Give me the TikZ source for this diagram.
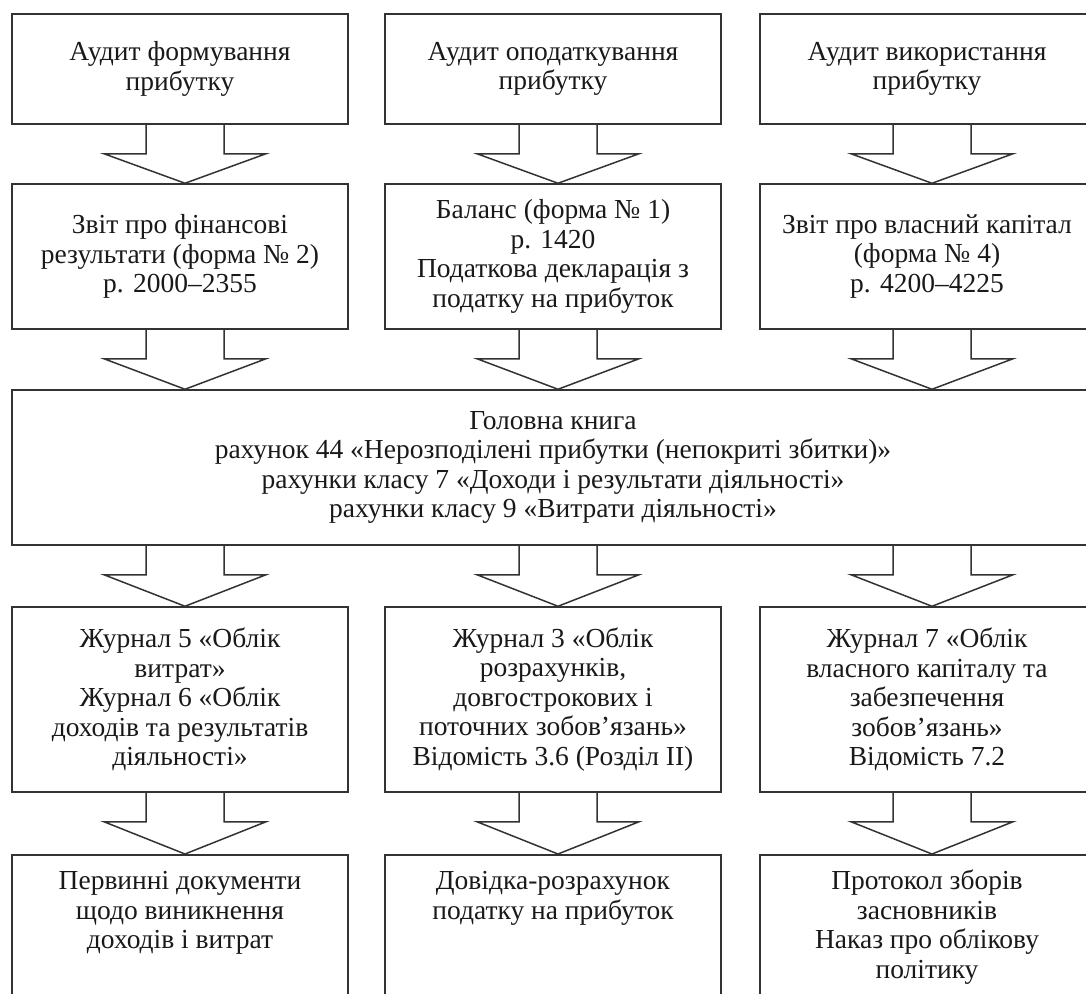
\documentclass[tikz,border=0pt]{standalone}
\usepackage{fontspec}
\setmainfont{Liberation Serif}
\usetikzlibrary{positioning}

% hollow block arrow: column node, from node, to node
\newcommand{\fatarrow}[3]{%
  \coordinate (tip) at ([xshift=5pt]#1.center |- #3.north);
  \path (tip |- #2.south) coordinate (top) ++(0,29) coordinate (sh);
  \draw[blockarrow] ([xshift=-39pt]top) -- ([xshift=-39pt]sh) -- ([xshift=-81pt]sh) -- (tip)
    -- ([xshift=81pt]sh) -- ([xshift=39pt]sh) -- ([xshift=39pt]top);
}

\begin{document}
\begin{tikzpicture}[x=1pt, y=-1pt,
        box/.style={draw=black!80, line width=1.5pt, rectangle, inner sep=0pt, align=center, text=black!90, font=\fontsize{27.5pt}{29.5pt}\selectfont},
        rowone/.style={box, minimum height=110pt},
        rowtwo/.style={box, minimum height=145pt},
        rowthree/.style={box, minimum height=185pt},
        rowfour/.style={box, anchor=north, text height=35pt, text depth=140pt},
        blockarrow/.style={draw=black!80, line width=1.5pt, line join=miter}
    ]
    \clip (0,0) rectangle (1086,993);

    % Audit areas
    \node[rowone, minimum width=336pt] (audform) at (180,69) {Аудит формування\\прибутку};
    \node[rowone, minimum width=336pt] (audtax) at (553,69) {Аудит оподаткування\\прибутку};
    \node[rowone, minimum width=334pt] (auduse) at (927,69) {Аудит використання\\прибутку};

    % Reporting forms
    \node[rowtwo, minimum width=336pt] (finres) at (180,256.5) {Звіт про фінансові\\результати (форма № 2)\\р. 2000–2355};
    \node[rowtwo, minimum width=336pt] (balance) at (553,256.5) {Баланс (форма № 1)\\р. 1420\\Податкова декларація з\\податку на прибуток};
    \node[rowtwo, minimum width=334pt] (equity) at (927,256.5) {Звіт про власний капітал\\(форма № 4)\\р. 4200–4225};

    % General ledger
    \node[box, minimum width=1082pt, minimum height=155pt] (ledger) at (553,467.5) {Головна книга\\рахунок 44 «Нерозподілені прибутки (непокриті збитки)»\\рахунки класу 7 «Доходи і результати діяльності»\\рахунки класу 9 «Витрати діяльності»};

    % Journals
    \node[rowthree, minimum width=336pt] (jrnlcost) at (180,699.5) {Журнал 5 «Облік\\витрат»\\Журнал 6 «Облік\\доходів та результатів\\діяльності»};
    \node[rowthree, minimum width=336pt] (jrnlcalc) at (553,699.5) {Журнал 3 «Облік\\розрахунків,\\довгострокових і\\поточних зобов’язань»\\Відомість 3.6 (Розділ II)};
    \node[rowthree, minimum width=334pt] (jrnlequity) at (927,699.5) {Журнал 7 «Облік\\власного капіталу та\\забезпечення\\зобов’язань»\\Відомість 7.2};

    % Primary documents
    \node[rowfour, minimum width=336pt] (primdocs) at (180,854) {\parbox[t]{330pt}{\centering Первинні документи\\щодо виникнення\\доходів і витрат}};
    \node[rowfour, minimum width=336pt] (taxcalc) at (553,854) {\parbox[t]{330pt}{\centering Довідка-розрахунок\\податку на прибуток}};
    \node[rowfour, minimum width=334pt] (minutes) at (927,854) {\parbox[t]{328pt}{\centering Протокол зборів\\засновників\\Наказ про облікову\\політику}};

    % Block arrows
    \fatarrow{audform}{audform}{finres}
    \fatarrow{audtax}{audtax}{balance}
    \fatarrow{auduse}{auduse}{equity}
    \fatarrow{finres}{finres}{ledger}
    \fatarrow{balance}{balance}{ledger}
    \fatarrow{equity}{equity}{ledger}
    \fatarrow{jrnlcost}{ledger}{jrnlcost}
    \fatarrow{jrnlcalc}{ledger}{jrnlcalc}
    \fatarrow{jrnlequity}{ledger}{jrnlequity}
    \fatarrow{jrnlcost}{jrnlcost}{primdocs}
    \fatarrow{jrnlcalc}{jrnlcalc}{taxcalc}
    \fatarrow{jrnlequity}{jrnlequity}{minutes}
\end{tikzpicture}
\end{document}
